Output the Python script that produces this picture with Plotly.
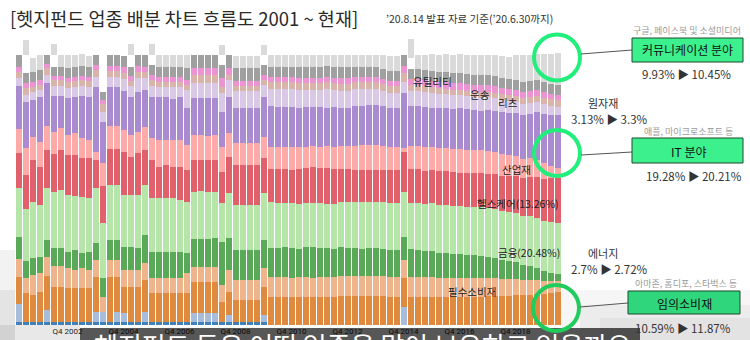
import plotly.graph_objects as go

quarters = [f"Q{q} {y}" for y in range(2001, 2021) for q in range(1, 5)][:78]
tick_labels = ["Q4 2002", "Q4 2004", "Q4 2006", "Q4 2008", "Q4 2010",
               "Q4 2012", "Q4 2014", "Q4 2016", "Q4 2018"]

# sector weights (%) per quarter, bottom -> top of each stack
s_darkblue = [1.1,1.1,1.1,1.1,1.1,1.1,1.1,1.1,1.1,1.1,1.1,1.1,1.1,
              1.1,1.1,1.1,1.1,1.1,1.1,1.1,1.1,1.1,1.1,1.1,1.1,1.1,
              1.1,1.1,1.1,1.1,1.1,1.1,1.1,1.1,1.1,1.1,0,0,0,
              0,0,0,0,0,0,0,0,0,0,0,0,0,
              0,0,0,0,0,0,0,0,0,0,0,0,0,
              0,0,0,0,0,0,0,0,0,0,0,0,0]
s_materials = [6.7,0,0,0,4.4,0,0,0,0,0,0,3.7,3.7,
               0,3.7,3.3,0,0,3.7,0,0,0,0,0,0,3.3,
               3.3,3.3,3.3,0,2.6,0,0,0,0,2.6,0,0,0,
               0,0,0,0,0,0,0,0,0,0,0,0,0,
               0,0,0,6.7,0,0,0,0,0,0,0,0,0,
               0,0,0,0,0,0,0,0,0,0,0,0,0]
s_discretionary = [10.0,10.7,10.0,11.1,12.6,13.0,13.0,12.6,12.6,12.6,12.6,13.0,0,
                   16.7,13.0,9.6,13.0,13.0,11.9,10.7,10.7,10.7,10.7,10.7,10.7,11.5,
                   11.5,11.5,11.5,7.4,8.5,8.1,8.1,8.1,8.1,10.4,10.4,10.4,10.4,
                   10.4,10.4,10.4,10.4,10.4,10.4,10.4,10.7,10.7,10.7,10.7,10.7,10.7,
                   10.7,10.4,10.4,10.7,10.4,10.4,10.4,10.4,10.4,10.4,10.4,10.4,10.4,
                   10.4,10.4,10.7,10.7,10.7,10.7,11.1,11.1,11.1,11.5,11.5,11.9,12.2]
s_staples = [6.7,5.6,7.4,7.0,7.0,7.8,7.8,7.4,6.7,7.4,6.7,6.3,5.6,
             6.3,6.3,6.3,6.3,6.3,6.3,5.6,5.6,5.6,5.6,5.6,7.4,5.6,
             5.6,5.6,5.6,6.3,8.1,7.4,7.4,7.4,7.4,7.0,7.4,7.4,7.4,
             7.0,7.4,7.4,7.0,7.4,7.4,7.4,7.4,7.4,7.4,7.4,7.4,7.4,
             7.4,7.4,7.4,6.7,7.4,7.4,7.4,7.4,7.0,7.0,7.0,7.0,7.0,
             7.0,7.0,6.7,6.7,6.3,6.3,5.9,5.6,5.6,5.2,4.8,4.4,4.1]
s_energy = [8.1,6.3,6.3,5.9,6.3,6.7,6.7,5.9,7.4,5.6,6.7,6.3,7.0,
            7.4,7.4,8.5,8.5,8.1,10.4,9.6,9.6,9.6,9.6,9.6,7.4,10.4,
            10.4,10.4,10.7,15.9,11.9,11.1,11.1,11.1,11.1,10.4,10.7,10.7,11.1,
            11.1,10.4,11.1,11.5,10.7,10.7,10.4,10.7,10.4,10.4,10.0,10.4,10.4,
            10.0,10.0,10.0,8.5,10.4,10.0,9.6,9.6,9.3,9.3,8.9,8.9,8.5,
            8.5,8.1,7.8,7.4,7.0,6.7,6.3,5.6,5.2,4.4,3.7,3.0,2.6]
s_financials = [18.1,19.3,20.7,19.3,19.3,20.7,21.5,21.1,20.0,20.7,20.0,20.4,20.4,
                20.4,20.4,19.3,19.3,19.6,18.5,20.0,20.0,20.0,20.0,19.3,18.9,17.4,
                17.8,17.4,17.0,14.4,16.7,16.7,16.7,16.7,16.7,17.4,17.0,16.7,16.3,
                16.7,16.7,16.3,16.3,16.7,16.3,16.7,16.7,17.0,17.0,17.4,17.0,17.0,
                17.4,17.4,17.4,16.7,17.0,17.4,17.4,17.8,17.8,17.8,17.8,17.8,17.8,
                17.8,18.1,18.1,18.1,18.1,18.1,18.1,18.1,18.5,18.5,18.5,18.9,18.9]
s_healthcare = [13.0,12.6,15.6,14.1,14.1,14.1,14.8,14.8,15.2,14.4,14.8,10.4,13.7,
                13.3,13.3,15.9,14.1,15.6,13.0,14.1,11.5,12.2,11.5,12.2,11.9,11.9,
                11.5,11.9,11.9,11.5,13.3,14.8,14.8,14.8,14.8,13.0,12.2,12.6,12.6,
                12.2,13.0,13.0,13.3,13.0,13.3,13.0,12.2,12.2,11.9,11.9,11.9,11.9,
                11.9,12.2,12.2,14.8,12.6,12.6,12.2,12.2,12.6,12.6,12.6,12.2,12.6,
                12.6,12.6,12.6,13.0,13.3,13.3,13.7,14.1,14.4,15.2,15.6,16.3,16.7]
s_industrials = [8.9,10.0,8.5,9.3,8.9,8.1,8.1,7.4,8.1,7.4,6.7,3.0,8.5,
                 8.5,8.5,8.1,8.1,7.8,8.5,8.1,10.0,9.3,10.0,10.0,9.3,9.3,
                 9.3,8.9,9.3,9.3,8.9,8.1,8.1,8.1,8.1,7.8,8.1,8.1,8.1,
                 8.5,8.1,7.8,7.8,7.8,8.1,8.1,8.5,8.5,8.9,9.3,9.3,9.3,
                 8.9,8.5,8.5,1.5,8.5,8.5,8.9,8.5,8.5,8.5,8.5,8.9,8.5,
                 8.5,8.5,8.5,8.1,8.1,7.8,7.4,7.0,7.0,6.3,5.9,4.4,3.7]
s_it = [15.9,17.0,13.7,16.7,15.9,13.3,11.9,13.7,13.3,15.6,15.9,24.1,15.2,
        14.4,14.4,14.8,14.1,14.8,13.7,15.2,15.9,15.9,15.2,15.9,13.7,13.7,
        13.7,14.1,13.7,13.0,13.3,13.3,13.3,13.3,13.3,14.8,15.2,14.8,14.8,
        14.8,14.4,14.8,14.4,14.8,14.4,14.8,14.4,14.4,14.8,14.4,14.8,14.8,
        14.8,14.4,14.4,20.4,14.8,14.8,14.8,14.4,14.8,14.8,14.8,15.2,15.2,
        14.8,14.8,15.2,15.2,15.6,15.6,15.9,16.3,16.3,17.8,18.1,18.9,19.6]
s_reits = [3.0,2.6,3.0,2.6,3.0,3.7,3.7,3.7,3.7,3.7,3.7,3.7,3.7,
           3.7,3.7,4.4,4.1,5.2,4.4,4.1,3.7,3.7,4.4,3.7,6.7,5.6,
           5.6,5.6,5.6,7.0,6.3,6.3,6.3,6.3,6.3,4.4,6.3,6.7,6.7,
           6.7,6.7,6.3,6.3,6.3,6.7,6.3,6.3,6.3,6.3,6.3,5.9,5.9,
           5.6,5.6,5.6,4.1,5.6,5.6,5.6,5.6,5.2,5.2,5.2,4.8,4.8,
           4.8,4.8,4.8,4.8,4.4,4.4,4.4,4.1,4.1,3.7,3.7,3.3,3.0]
s_raw = [2.2,2.6,1.9,1.9,2.6,2.2,2.2,2.2,2.2,2.2,2.2,2.6,3.0,
         2.2,2.2,2.2,1.9,2.2,2.2,2.2,1.9,1.9,1.9,1.9,1.9,3.0,
         3.0,3.0,3.0,2.2,1.9,1.5,1.5,1.5,1.5,1.9,2.6,2.6,2.6,
         2.6,2.6,2.6,2.6,2.6,2.6,2.6,2.6,2.6,2.6,2.6,2.6,2.6,
         2.6,2.6,2.6,3.3,2.2,2.2,2.2,2.2,2.2,1.9,1.9,1.9,1.9,
         1.9,1.9,1.9,1.9,2.2,2.2,2.2,2.2,2.2,2.2,2.2,2.6,2.6]
s_transport = [1.9,1.9,1.9,1.9,1.5,1.5,1.5,1.5,1.5,1.5,1.5,1.9,1.5,
               1.9,1.9,2.2,1.9,2.2,1.9,1.9,1.9,1.9,1.9,1.9,1.9,2.6,
               2.6,2.6,2.6,3.3,2.6,2.2,2.2,2.2,2.2,1.9,1.9,1.9,1.9,
               1.9,1.9,1.9,1.9,1.9,1.9,1.9,1.9,1.9,1.9,1.9,1.9,1.9,
               1.9,1.9,1.9,2.6,2.2,2.2,2.2,2.2,2.2,2.6,2.6,2.6,2.6,
               2.6,2.6,2.6,2.6,2.2,2.2,2.2,2.2,2.2,2.2,2.2,1.9,1.9]
s_utilities = [4.4,3.7,3.7,3.7,3.3,3.3,3.3,3.7,3.7,3.7,3.7,3.7,3.0,
               4.1,4.1,4.1,3.3,4.1,4.4,3.7,3.7,3.7,3.7,3.7,4.4,4.8,
               4.8,4.8,4.8,4.8,4.8,4.8,4.8,4.8,4.8,3.7,3.7,3.7,3.7,
               3.7,4.1,4.1,4.1,4.1,4.1,4.1,4.1,4.1,3.7,3.7,3.7,3.7,
               3.7,3.7,3.7,4.1,3.7,3.7,3.7,3.7,3.7,3.7,3.7,3.7,3.7,
               3.7,3.7,3.7,3.7,3.7,3.7,3.7,3.7,3.7,3.7,3.7,3.7,3.7]
s_unclassified = [0,6.7,0,0,0,4.4,0,0,0,0,0,0,0,
                  0,0,0,4.4,0,0,3.7,0,0,0,0,0,0,
                  0,0,0,3.7,0,0,0,0,0,3.7,0,0,0,
                  0,0,0,0,0,0,0,0,0,0,0,0,0,
                  0,0,0,0,4.1,0,0,0,0,0,0,0,0,
                  0,0,0,0,0,0,0,0,0,0,0,0,0]
s_communication = [0,5.6,5.2,5.6,0,4.1,4.4,4.8,4.4,4.4,4.1,0,0,
                   0,0,0,4.1,0,0,4.1,4.4,4.4,4.4,4.4,4.8,0,
                   0,0,0,3.7,0,4.4,4.4,4.4,4.4,3.7,4.4,4.4,4.4,
                   4.4,4.4,4.4,4.4,4.4,4.1,4.4,4.4,4.4,4.4,4.4,4.4,4.4,
                   5.2,5.6,5.6,0,7.8,5.2,5.6,6.3,6.3,6.7,6.7,7.0,7.0,
                   7.4,7.4,7.4,7.8,8.1,8.5,9.0,10.0,9.6,9.6,10.4,11.1,11.9]

series = [
    ("기타", s_darkblue, "#4181bb"),
    ("소재", s_materials, "#a7bddb"),
    ("임의소비재", s_discretionary, "#e08a40"),
    ("필수소비재", s_staples, "#eeb48c"),
    ("에너지", s_energy, "#59a959"),
    ("금융", s_financials, "#b6e5a9"),
    ("헬스케어", s_healthcare, "#e0616b"),
    ("산업재", s_industrials, "#fdaaa8"),
    ("IT", s_it, "#ab8bcf"),
    ("리츠", s_reits, "#dac9e6"),
    ("원자재", s_raw, "#d8b4ab"),
    ("운송", s_transport, "#eb93d3"),
    ("유틸리티", s_utilities, "#a0a0a0"),
    ("미분류", s_unclassified, "#ffffff"),
    ("커뮤니케이션", s_communication, "#dbdadb"),
]

fig = go.Figure()
for name, vals, col in series:
    fig.add_trace(go.Bar(x=quarters, y=vals, name=name, marker_color=col,
                         marker_line_width=0, showlegend=False))

L, R, T, B = 15, 561, 39, 325


def px(x):
    return (x - L) / (R - L)


def py(y):
    return (B - y) / (B - T)


KR = "Noto Sans CJK KR"
ann = []


def txt(x, y, s, size, color="#222", xanchor="center", yanchor="middle"):
    ann.append(dict(x=px(x), y=py(y), xref="paper", yref="paper", text=s,
                    showarrow=False, xanchor=xanchor, yanchor=yanchor,
                    font=dict(family=KR, size=size, color=color)))


shapes = []
# vignette / background shading
for x0, y0, x1, y1, op in [
        (0, 250, 15, 345, 0.10), (0, 290, 15, 345, 0.12), (0, 325, 80, 345, 0.18),
        (560, 290, 750, 345, 0.07), (580, 305, 750, 345, 0.08), (600, 318, 750, 345, 0.08)]:
    shapes.append(dict(type="rect", xref="paper", yref="paper", x0=px(x0), x1=px(x1),
                       y0=py(y1), y1=py(y0), fillcolor="#808080", opacity=op,
                       line_width=0, layer="below"))
# semi-transparent subtitle bar drawn over the axis labels
shapes.append(dict(type="rect", xref="paper", yref="paper", x0=px(80), x1=px(640),
                   y0=py(345), y1=py(328), fillcolor="#000000", opacity=0.66,
                   line_width=0, layer="above"))

# circles
for cx, cy, col in [(557, 57.5, "#22ee7c"), (557, 153, "#22ee7c"), (556, 308, "#20cc5c")]:
    r = 23
    shapes.append(dict(type="circle", xref="paper", yref="paper",
                       x0=px(cx - r), x1=px(cx + r), y0=py(cy + r), y1=py(cy - r),
                       line=dict(color=col, width=4)))
# connectors
for x0, y0, x1, y1 in [(581, 54, 632, 50), (581, 155, 632, 152), (580, 307, 628, 303)]:
    shapes.append(dict(type="line", xref="paper", yref="paper", x0=px(x0), y0=py(y0),
                       x1=px(x1), y1=py(y1), line=dict(color="#555555", width=1)))
# green boxes
for x0, y0, x1, y1, col in [(632, 38, 743, 62, "#3cf08e"), (632, 138, 743, 163, "#3cf08e"),
                            (628, 291, 740, 314, "#2fd67c")]:
    shapes.append(dict(type="rect", xref="paper", yref="paper", x0=px(x0), x1=px(x1),
                       y0=py(y1), y1=py(y0), fillcolor=col,
                       line=dict(color="#1d4a2c", width=1)))

# titles
txt(8, 18, "[헷지펀드 업종 배분 차트 흐름도 2001 ~ 현재]", 18.5, "#2a2a2a", xanchor="left")
txt(384, 18, "’20.8.14 발표 자료 기준(’20.6.30까지)", 10.5, "#333", xanchor="left")

# in-chart labels
txt(432, 81, "유틸리티", 10.5)
txt(480, 94, "운송", 10.5)
txt(508, 102, "리츠", 10.5)
txt(516, 169, "산업재", 10.5)
txt(518, 203, "헬스케어(13.26%)", 10.5)
txt(529, 252, "금융(20.48%)", 10.5)
txt(472, 291, "필수소비재", 10.5)

# right side callouts
txt(687, 30, "구글, 페이스북 및 소셜미디어", 9, "#9a9a9a")
txt(687, 50, "커뮤니케이션 분야", 12, "#111")
txt(686, 74, "9.93% ▶ 10.45%", 11.5, "#333")
txt(603, 103, "원자재", 11, "#333")
txt(609, 119, "3.13% ▶ 3.3%", 11.5, "#333")
txt(688, 131, "애플, 마이크로소프트 등", 9, "#9a9a9a")
txt(688, 151, "IT 분야", 12, "#111")
txt(694, 176, "19.28% ▶ 20.21%", 11.5, "#333")
txt(603, 253, "에너지", 11, "#333")
txt(609, 269, "2.7% ▶ 2.72%", 11.5, "#333")
txt(686, 283, "아마존, 홈디포, 스타벅스 등", 9, "#9a9a9a")
txt(684, 303, "임의소비재", 12, "#111")
txt(683, 328, "10.59% ▶ 11.87%", 11.5, "#333")

# subtitle (cut off at the bottom of the frame)
ann.append(dict(x=px(362), y=py(324), xref="paper", yref="paper",
                text="헤지펀드 들은 어떤 업종을 많이 보유하고 있을까요", showarrow=False,
                xanchor="center", yanchor="top",
                font=dict(family=KR, size=26, color="#ffffff")))

fig.update_layout(
    width=750, height=340, barmode="stack", bargap=1 / 7,
    margin=dict(l=L, r=750 - R, t=T, b=340 - B, autoexpand=False),
    paper_bgcolor="#ffffff", plot_bgcolor="rgba(0,0,0,0)",
    xaxis=dict(type="category", range=[-0.5, 77.5], showgrid=False, zeroline=False,
               showline=False, ticks="", tickvals=tick_labels, ticktext=tick_labels,
               tickangle=0, automargin=False,
               tickfont=dict(family="Roboto", size=8, color="#222")),
    yaxis=dict(range=[0, 106], visible=False, automargin=False),
    shapes=shapes, annotations=ann,
)

fig.write_html("out.html")
